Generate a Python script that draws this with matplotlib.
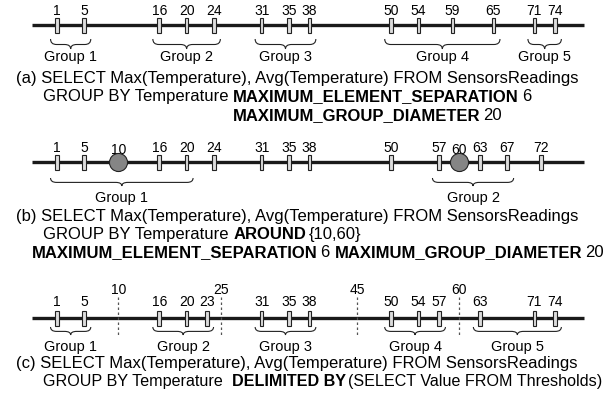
import matplotlib
matplotlib.use("Agg")
import matplotlib.pyplot as plt
from matplotlib.path import Path
from matplotlib.patches import PathPatch, Rectangle
from matplotlib.transforms import Affine2D

# === DATA ===
a_values = [1, 5, 16, 20, 24, 31, 35, 38, 50, 54, 59, 65, 71, 74]
a_groups = [(1, 5), (16, 24), (31, 38), (50, 65), (71, 74)]
a_group_names = ["Group 1", "Group 2", "Group 3", "Group 4", "Group 5"]

b_values = [1, 5, 16, 20, 24, 31, 35, 38, 50, 57, 63, 67, 72]
b_centers = [10, 60]
b_groups = [(1, 20), (57, 67)]
b_group_names = ["Group 1", "Group 2"]

c_values = [1, 5, 16, 20, 23, 31, 35, 38, 50, 54, 57, 63, 71, 74]
c_thresholds = [10, 25, 45, 60]
c_groups = [(1, 5), (16, 23), (31, 38), (50, 57), (63, 74)]
c_group_names = ["Group 1", "Group 2", "Group 3", "Group 4", "Group 5"]

# caption lines: (left px or None = under previous bold, y px, font size, parts)
captions = {
    "a": [
        (16, 79, 12, [("(a) SELECT Max(Temperature), Avg(Temperature) FROM SensorsReadings", False)]),
        (43, 97, 12, [("GROUP BY Temperature ", False), ("MAXIMUM_ELEMENT_SEPARATION", True), ("6", False)]),
        (None, 116, 12, [("MAXIMUM_GROUP_DIAMETER", True), ("20", False)]),
    ],
    "b": [
        (16, 217, 12, [("(b) SELECT Max(Temperature), Avg(Temperature) FROM SensorsReadings", False)]),
        (43, 235, 12, [("GROUP BY Temperature ", False), ("AROUND", True), ("{10,60}", False)]),
        (32, 253, 12, [("MAXIMUM_ELEMENT_SEPARATION", True), ("6 ", False),
                       ("MAXIMUM_GROUP_DIAMETER", True), ("20", False)]),
    ],
    "c": [
        (16, 364, 12, [("(c) SELECT Max(Temperature), Avg(Temperature) FROM SensorsReadings", False)]),
        (43, 382, 11.6, [("GROUP BY Temperature  ", False), ("DELIMITED BY", True),
                         ("(SELECT Value FROM Thresholds)", False)]),
    ],
}

# === LAYOUT ===
W, H = 616, 402
X0, SCALE = 50.2, 6.82          # pixel of value 0, pixels per unit
AXIS_MIN, AXIS_MAX = -2.7, 78.2
FONT = "Liberation Sans"

def px2v(px):
    return (px - X0) / SCALE

fig = plt.figure(figsize=(W / 100, H / 100), dpi=100)
ax = fig.add_axes([0, 0, 1, 1])
ax.set_xlim(px2v(0), px2v(W))
ax.set_ylim(H, 0)
ax.axis("off")

pix = Affine2D().scale(1, -1).translate(0, H)   # top-left pixel coords


def brace(xl, xr, ytop, ybot):
    r = 6 / SCALE
    xm = (xl + xr) / 2
    ymid = ytop + (ybot - ytop) * 0.55
    verts = [(xl, ytop), (xl, ymid), (xl + r, ymid),
             (xm - r, ymid), (xm, ymid), (xm, ybot),
             (xm, ymid), (xm + r, ymid),
             (xr - r, ymid), (xr, ymid), (xr, ytop)]
    codes = [Path.MOVETO, Path.CURVE3, Path.CURVE3,
             Path.LINETO, Path.CURVE3, Path.CURVE3,
             Path.CURVE3, Path.CURVE3,
             Path.LINETO, Path.CURVE3, Path.CURVE3]
    ax.add_patch(PathPatch(Path(verts, codes), fill=False, lw=0.8, color="#222222"))


def number_line(y, values, label_y, groups, names, brace_top, brace_bot, name_y):
    ax.plot([AXIS_MIN, AXIS_MAX], [y, y], color="#1a1a1a", lw=2.4, solid_capstyle="butt", zorder=1)
    for v in values:
        ax.add_patch(Rectangle((v - 0.27, y - 7.5), 0.54, 15, facecolor="#dcdcdc",
                               edgecolor="#222222", lw=0.8, zorder=3))
        ax.text(v, label_y, str(v), ha="center", va="center", fontsize=10, family=FONT)
    for (g0, g1), name in zip(groups, names):
        brace(g0 - 0.95, g1 + 0.95, brace_top, brace_bot)
        ax.text((g0 + g1) / 2, name_y, name, ha="center", va="center", fontsize=10.5, family=FONT)


def rich_line(x, y, parts, fontsize):
    # place bold / normal pieces one after another
    r = fig.canvas.get_renderer()
    gap = fontsize * 100 / 72 * 0.278
    starts = []
    for i, (s, bold) in enumerate(parts):
        if i > 0 and not parts[i - 1][0].endswith(" "):
            x += gap * (0.6 if parts[i - 1][1] else 1.0)
        t = fig.text(x, y, s.rstrip(" "), transform=pix, ha="left", va="center", fontsize=fontsize,
                     family=FONT, fontweight="bold" if bold else "normal")
        starts.append(x)
        x = x + t.get_window_extent(renderer=r).width
        x += gap * (len(s) - len(s.rstrip(" ")))
    return starts


# (a)
number_line(26, a_values, 11, a_groups, a_group_names, 40, 50, 57)
# (b)
number_line(163, b_values, 148, b_groups, b_group_names, 179, 187, 198)
ax.plot(b_centers, [163] * len(b_centers), "o", ms=13, color="#858585", mec="#222222",
        mew=0.8, zorder=4)
for v in b_centers:
    ax.text(v, 150, str(v), ha="center", va="center", fontsize=10, family=FONT)
# (c)
number_line(319, c_values, 302, c_groups, c_group_names, 328, 336, 347)
for v in c_thresholds:
    ax.plot([v, v], [298, 338], color="#555555", lw=0.9, ls=(0, (2, 2)), zorder=2)
    ax.text(v, 290, str(v), ha="center", va="center", fontsize=10, family=FONT)

# captions
for key in ["a", "b", "c"]:
    prev = None
    for x, y, fs, parts in captions[key]:
        if x is None:
            x = prev[1]
        prev = rich_line(x, y, parts, fs)

fig.savefig("out.png", dpi=100)
